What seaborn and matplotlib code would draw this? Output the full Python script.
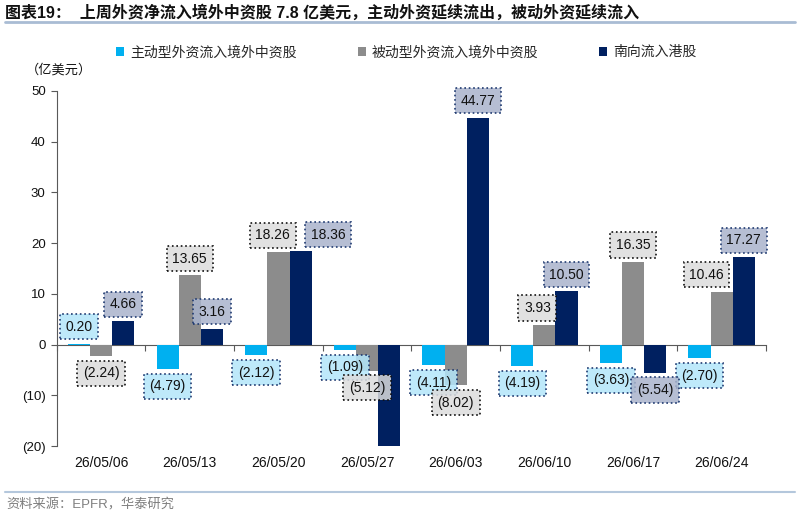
import numpy as np
import pandas as pd
import matplotlib
matplotlib.use('Agg')
import matplotlib.pyplot as plt
import matplotlib.colors as mcolors
from matplotlib.lines import Line2D
import seaborn as sns

# ---- data ----
dates = ["26/05/06", "26/05/13", "26/05/20", "26/05/27",
         "26/06/03", "26/06/10", "26/06/17", "26/06/24"]
series_names = ["主动型外资流入境外中资股", "被动型外资流入境外中资股", "南向流入港股"]
active = [0.20, -4.79, -2.12, -1.09, -4.11, -4.19, -3.63, -2.70]
passive = [-2.24, 13.65, 18.26, -5.12, -8.02, 3.93, 16.35, 10.46]
southbound = [4.66, 3.16, 18.36, -20.6, 44.77, 10.50, -5.54, 17.27]
y_ticks = [-20, -10, 0, 10, 20, 30, 40, 50]

title = "图表19：  上周外资净流入境外中资股 7.8 亿美元，主动外资延续流出，被动外资延续流入"
unit = "（亿美元）"
source = "资料来源：EPFR，华泰研究"

# ---- style ----
bar_colors = ["#00B0F0", "#8C8C8C", "#002060"]
box_fill = ["#B3E6FA", "#DCDCDC", "#A9B3CC"]
box_edge = ["#1F3A70", "#111111", "#1F3A70"]
axis_color = "#595959"
# horizontal nudges (points) for labels that would collide: (series index, date) -> dx
label_nudge = {(1, "26/05/20"): -4, (2, "26/05/20"): 20,
               (1, "26/06/24"): -11, (1, "26/06/10"): -5}

sns.set_theme(style="white")
plt.rcParams['font.family'] = ['Liberation Sans', 'Noto Sans CJK SC']
plt.rcParams['axes.unicode_minus'] = False

fig = plt.figure(figsize=(8, 5.17), dpi=100)
ax = fig.add_axes([0.071, 0.1373, 0.8865, 0.6867])

df = pd.DataFrame({
    'date': dates * 3,
    'series': [s for s in series_names for _ in dates],
    'value': active + passive + southbound,
})
sns.barplot(data=df, x='date', y='value', hue='series', order=dates,
            hue_order=series_names, palette=bar_colors, saturation=1,
            width=0.75, gap=0, linewidth=0, errorbar=None, ax=ax)

ylim = (y_ticks[0], y_ticks[-1])
ax.set_ylim(*ylim)
ax.set_xlim(-0.5, len(dates) - 0.5)
ax.set_yticks(y_ticks)
ax.set_yticklabels([f"({abs(t)})" if t < 0 else f"{t}" for t in y_ticks], fontsize=9.5)
ax.set_xlabel("")
ax.set_ylabel("")
ax.tick_params(axis='y', direction='out', length=4, width=0.8, color=axis_color,
               pad=4, left=True, labelcolor='#111111')
ax.tick_params(axis='x', length=0, pad=7, labelsize=10, labelcolor='#111111')
for s in ['top', 'right', 'bottom']:
    ax.spines[s].set_visible(False)
ax.spines['left'].set_color(axis_color)
ax.spines['left'].set_linewidth(0.8)

# zero axis with category-boundary ticks
loc = (0 - ylim[0]) / (ylim[1] - ylim[0])
sec = ax.secondary_xaxis(loc)
sec.set_xticks(np.arange(len(dates) + 1) - 0.5)
sec.set_xticklabels([])
sec.tick_params(direction='out', length=4, width=0.8, color=axis_color)
sec.spines['bottom'].set_color(axis_color)
sec.spines['bottom'].set_linewidth(0.8)
for s in ['top', 'left', 'right']:
    sec.spines[s].set_visible(False)

# data labels
values = [active, passive, southbound]
for i, cont in enumerate(ax.containers):
    for bar, v, d in zip(cont, values[i], dates):
        if v < ylim[0] or v > ylim[1]:
            continue
        x = bar.get_x() + bar.get_width() / 2
        off = 12 if v >= 0 else -12.5
        dx = label_nudge.get((i, d), 0)
        txt = f"{v:.2f}" if v >= 0 else f"({abs(v):.2f})"
        ax.annotate(txt, xy=(x, v), xytext=(dx, off), textcoords='offset points',
                    ha='center', va='center', fontsize=10, color='#111111', zorder=5,
                    annotation_clip=False,
                    bbox=dict(boxstyle='square,pad=0.4',
                              fc=mcolors.to_rgba(box_fill[i], 0.85),
                              ec=box_edge[i], ls=':', lw=1.2))

# legend
handles, labels = ax.get_legend_handles_labels()
if ax.get_legend() is not None:
    ax.get_legend().remove()
fig.legend(handles, labels, loc='center left', bbox_to_anchor=(0.145, 0.899),
           ncol=3, frameon=False, fontsize=10, handlelength=0.6, handleheight=0.6,
           handletextpad=0.4, columnspacing=4.4, borderpad=0, borderaxespad=0)

# texts and rules
fig.text(0.006, 0.976, title, fontsize=11.5, fontweight='bold', va='center', ha='left',
         color='#111111')
fig.add_artist(Line2D([0.006, 0.994], [0.957, 0.957], color='#A9BCD4', lw=2,
                      transform=fig.transFigure))
fig.text(0.032, 0.865, unit, fontsize=9.5, va='center', ha='left', color='#111111')
fig.add_artist(Line2D([0.006, 0.994], [0.0484, 0.0484], color='#B4C7DC', lw=1.5,
                      transform=fig.transFigure))
fig.text(0.008, 0.023, source, fontsize=9.5, va='center', ha='left', color='#7F7F7F')

fig.savefig('out.png', dpi=100)
